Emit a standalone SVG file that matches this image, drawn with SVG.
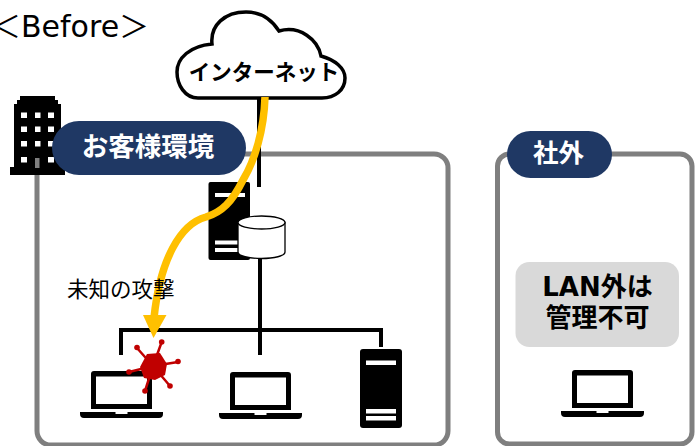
<svg xmlns="http://www.w3.org/2000/svg" width="695" height="446" viewBox="0 0 695 446">
<style>
.frame{fill:#fff;stroke:#7f7f7f;stroke-width:5}
.pill{fill:#1f3864}
.jp{font-family:"Noto Sans CJK JP","Noto Sans",sans-serif}
.mix{font-family:"DejaVu Sans","Noto Sans CJK JP",sans-serif}
.b{font-weight:700;text-anchor:middle}
.w{fill:#fff}
.wire{fill:none;stroke:#000;stroke-width:4}
</style>
<defs>
<g id="laptop">
<path fill-rule="evenodd" d="M14,0H69Q72,0 72,3V38H11V3Q11,0 14,0ZM16,5.500V33H67V5.500Z"/>
<path d="M0,41H35.500V43H47.500V41H83V43Q83,47 79,47H4Q0,47 0,43Z"/>
</g>
</defs>
<rect width="695" height="446" fill="#fff"/>
<text x="-9" y="37" class="mix" font-size="30">＜Before＞</text>
<g id="frame-customer"><rect class="frame" x="37" y="154" width="411" height="291" rx="14"/></g>
<g id="frame-outside"><rect class="frame" x="497.500" y="154" width="194.500" height="290" rx="12"/></g>
<g id="building">
<path d="M20,96H55V100H58V104H61V167H65V175H10V167H14V104H17V100H20Z"/>
<path fill="#fff" d="M21,112.500h6v5.500h-6zM35,112.500h5.500v5.500h-5.500zM48,112.500h6v5.500h-6zM21,126.500h6v5.500h-6zM35,126.500h5.500v5.500h-5.500zM48,126.500h6v5.500h-6zM21,141h6v5.500h-6zM35,141h5.500v5.500h-5.500zM48,141h6v5.500h-6zM21,157h6v5.500h-6zM48,157h6v5.500h-6z"/>
<rect x="35" y="158" width="4.500" height="10" fill="#7f7f7f"/>
</g>
<g id="connectors">
<path class="wire" d="M259,97V187"/>
<path class="wire" d="M260,256V355M121,355V330H381V347"/>
</g>
<g id="cloud">
<path d="M198,98C185,98 177,85 177,72C177,58 190,46 212,44C210,25 225,12 246,12C262,12 272,20 279,31C300,25 318,40 321,56C335,60 345,68 345,78C345,90 335,98 322,98Z" fill="#fff" stroke="#000" stroke-width="3.500"/>
<text x="264" y="80" class="jp b" font-size="21.500">インターネット</text>
</g>
<g id="pill-customer">
<rect class="pill" x="52" y="121" width="194" height="54" rx="27"/>
<text x="148" y="156" class="jp b w" font-size="26.500">お客様環境</text>
</g>
<g id="pill-outside">
<rect class="pill" x="507" y="131" width="105" height="47" rx="23.500"/>
<text x="558.500" y="162" class="jp b w" font-size="25.500">社外</text>
</g>
<g id="server-top">
<rect x="208.500" y="182" width="41.500" height="78" rx="2"/>
<path fill="#fff" d="M215,193h30v4h-30zM215,240.500h30v4h-30zM215,248h30v4h-30z"/>
</g>
<g id="attack">
<path d="M265,97C264,130 255,160 243,180C232,202 222,212 206,217C180,224 160,260 154,318" fill="none" stroke="#ffc000" stroke-width="7.500"/>
<path d="M143,315H166.500L153.500,338Z" fill="#ffc000"/>
</g>
<g id="database">
<path d="M238,222.500V252C238,256 249,258.500 261.500,258.500C274,258.500 285,256 285,252V222.500Z" fill="#fff" stroke="#000" stroke-width="1.300"/>
<ellipse cx="261.500" cy="222.500" rx="23.500" ry="6.500" fill="#fff" stroke="#000" stroke-width="1.300"/>
</g>
<g id="laptop-1"><use href="#laptop" x="80" y="371"/></g>
<g id="laptop-2"><use href="#laptop" x="219" y="372"/></g>
<g id="laptop-3"><use href="#laptop" x="561" y="370"/></g>
<g id="server-bottom">
<rect x="360" y="349" width="42" height="79" rx="3"/>
<path fill="#fff" d="M366,360.500h30v4.500h-30zM366,409h30v4.500h-30zM366,416h30v4.500h-30z"/>
</g>
<g id="virus">
<path d="M153,366L161.700,342M153,366L137,348M153,366L178,362M153,366L129,372M153,366L145,391M153,366L170,386" stroke="#c00000" stroke-width="2.500"/>
<g fill="#c00000">
<circle cx="161.700" cy="342" r="2.800"/><circle cx="137" cy="347.500" r="2.800"/><circle cx="178" cy="361.500" r="2.800"/><circle cx="129" cy="372" r="2.800"/><circle cx="145" cy="391" r="2.800"/><circle cx="170" cy="386" r="2.800"/>
<path d="M147,354L160,353L167,364L165,375L155,380L144,378L140,367Z"/>
</g>
</g>
<text x="67" y="297" class="jp" font-size="21.500">未知の攻撃</text>
<g id="note">
<rect x="515.500" y="262" width="163.500" height="85" rx="14" fill="#d9d9d9"/>
<text class="mix b" font-size="26"><tspan x="597.500" y="296">LAN外は</tspan><tspan x="597.500" y="327">管理不可</tspan></text>
</g>
</svg>
